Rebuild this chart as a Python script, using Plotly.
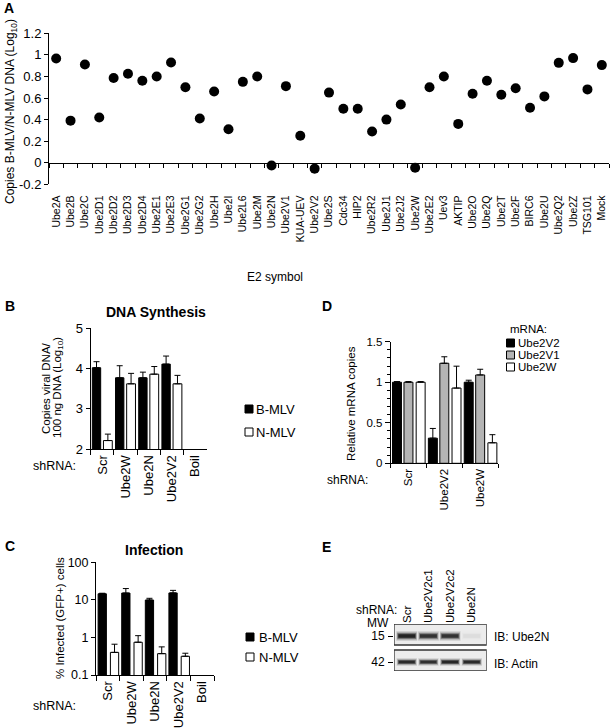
import plotly.graph_objects as go

# ---------------- data ----------------
# Panel A
e2_symbols = ["Ube2A", "Ube2B", "Ube2C", "Ube2D1", "Ube2D2", "Ube2D3", "Ube2D4", "Ube2E1",
              "Ube2E3", "Ube2G1", "Ube2G2", "Ube2H", "Ube2I", "Ube2L6", "Ube2M", "Ube2N",
              "Ube2V1", "KUA-UEV", "Ube2V2", "Ube2S", "Cdc34", "HIP2", "Ube2R2", "Ube2J1",
              "Ube2J2", "Ube2W", "Ube2E2", "Uev3", "AKTIP", "Ube2O", "Ube2Q", "Ube2T",
              "Ube2F", "BIRC6", "Ube2U", "Ube2Q2", "Ube2Z", "TSG101", "Mock"]
ratio_log10 = [0.966, 0.39, 0.91, 0.42, 0.785, 0.825, 0.76, 0.80,
               0.93, 0.70, 0.41, 0.66, 0.31, 0.75, 0.80, -0.025,
               0.71, 0.25, -0.055, 0.65, 0.50, 0.50, 0.29, 0.40,
               0.54, -0.046, 0.70, 0.80, 0.36, 0.64, 0.76, 0.63,
               0.69, 0.51, 0.615, 0.926, 0.97, 0.68, 0.905]
a_yticks = [-0.2, 0, 0.2, 0.4, 0.6, 0.8, 1.0, 1.2]
a_yticklabels = ["-0.2", "0", "0.2", "0.4", "0.6", "0.8", "1", "1.2"]

# Panels B and C
shrna_bc = ["Scr", "Ube2W", "Ube2N", "Ube2V2", "Boil"]
dna_bmlv = [4.02, 3.77, 3.77, 4.11, None]
dna_bmlv_err = [0.15, 0.30, 0.14, 0.20, None]
dna_nmlv = [2.21, 3.62, 3.86, 3.62, None]
dna_nmlv_err = [0.16, 0.26, 0.19, 0.21, None]
b_yticks = [2, 3, 4, 5]

inf_bmlv = [14.5, 15.2, 9.9, 15.3, None]
inf_bmlv_err = [0.5, 4.8, 1.1, 2.6, None]
inf_nmlv = [0.40, 0.745, 0.37, 0.315, None]
inf_nmlv_err = [0.26, 0.37, 0.19, 0.065, None]
c_yticks = [0.1, 1, 10, 100]
c_yticklabels = ["0.1", "1", "10", "100"]

# Panel D
shrna_d = ["Scr", "Ube2V2", "Ube2W"]
mrna_ube2v2 = [1.0, 0.31, 1.0]
mrna_ube2v2_err = [0.008, 0.12, 0.025]
mrna_ube2v1 = [1.0, 1.234, 1.09]
mrna_ube2v1_err = [0.008, 0.08, 0.07]
mrna_ube2w = [1.0, 0.928, 0.253]
mrna_ube2w_err = [0.008, 0.27, 0.10]
d_yticks = [0, 0.5, 1, 1.5]
d_yticklabels = ["0", "0.5", "1", "1.5"]

# Panel E (western blot band intensities, 0..1)
blot_lanes = ["Scr", "Ube2V2c1", "Ube2V2c2", "Ube2N"]
ube2n_band = [1.0, 0.85, 0.85, 0.04]
actin_band = [0.9, 0.85, 0.95, 0.9]
mw_labels = ["15", "42"]

# ---------------- helpers ----------------
W, H = 611, 728
FONT = "Liberation Sans, Arial, sans-serif"


def px(x):
    return x / W


def py(y):
    return 1 - y / H


fig = go.Figure()

# ---------------- Panel A ----------------
fig.add_trace(go.Scatter(
    x=e2_symbols, y=ratio_log10, mode="markers",
    marker=dict(color="black", size=10),
    xaxis="x", yaxis="y", showlegend=False, cliponaxis=False))

# ---------------- Panel B ----------------
err_style = dict(type="data", symmetric=False, color="black", thickness=1, width=3)
fig.add_trace(go.Bar(
    x=shrna_bc, y=dna_bmlv, xaxis="x2", yaxis="y2", name="B-MLV",
    marker=dict(color="black", line=dict(color="black", width=1)),
    width=0.36, offset=-0.43, showlegend=False,
    error_y=dict(array=dna_bmlv_err, arrayminus=[0] * len(dna_bmlv_err), **err_style)))
fig.add_trace(go.Bar(
    x=shrna_bc, y=dna_nmlv, xaxis="x2", yaxis="y2", name="N-MLV",
    marker=dict(color="white", line=dict(color="black", width=1)),
    width=0.38, offset=0.05, showlegend=False,
    error_y=dict(array=dna_nmlv_err, arrayminus=[0] * len(dna_nmlv_err), **err_style)))

# ---------------- Panel C ----------------
fig.add_trace(go.Bar(
    x=shrna_bc, y=inf_bmlv, xaxis="x3", yaxis="y3", name="B-MLV",
    marker=dict(color="black", line=dict(color="black", width=1)),
    width=0.35, offset=-0.41, showlegend=False,
    error_y=dict(array=inf_bmlv_err, arrayminus=[0] * len(inf_bmlv_err), **err_style)))
fig.add_trace(go.Bar(
    x=shrna_bc, y=inf_nmlv, xaxis="x3", yaxis="y3", name="N-MLV",
    marker=dict(color="white", line=dict(color="black", width=1)),
    width=0.35, offset=0.11, showlegend=False,
    error_y=dict(array=inf_nmlv_err, arrayminus=[0] * len(inf_nmlv_err), **err_style)))

# ---------------- Panel D ----------------
d_series = [("Ube2V2", mrna_ube2v2, mrna_ube2v2_err, "black", -0.45),
            ("Ube2V1", mrna_ube2v1, mrna_ube2v1_err, "#b4b4b4", -0.13),
            ("Ube2W", mrna_ube2w, mrna_ube2w_err, "white", 0.21)]
for name, vals, errs, col, off in d_series:
    fig.add_trace(go.Bar(
        x=shrna_d, y=vals, xaxis="x4", yaxis="y4", name=name,
        marker=dict(color=col, line=dict(color="black", width=1)),
        width=0.25, offset=off, showlegend=False,
        error_y=dict(array=errs, arrayminus=[0] * len(errs), **err_style)))

# ---------------- Panel E (blot) ----------------
lane_idx = list(range(len(blot_lanes)))
UPPER_C, LOWER_C = 35, 9  # band centres in blot axis units (px from bottom)
for band, centre, layers in [(ube2n_band, UPPER_C, [(10.0, 0.12, 0.97), (7.5, 0.22, 0.92),
                                                     (5.5, 0.45, 0.86), (3.5, 0.8, 0.78)]),
                             (actin_band, LOWER_C, [(8.0, 0.12, 0.94), (6.0, 0.25, 0.88),
                                                    (4.0, 0.5, 0.82), (2.5, 0.8, 0.74)])]:
    for h, alpha, wdt in layers:
        fig.add_trace(go.Bar(
            x=lane_idx, y=[h] * len(band), base=[centre - h / 2] * len(band),
            xaxis="x5", yaxis="y5", width=wdt, showlegend=False, hoverinfo="skip",
            marker=dict(color=[f"rgba(20,20,20,{alpha * v:.3f})" for v in band], line=dict(width=0))))

# ---------------- layout ----------------
axis_common = dict(showline=True, linecolor="black", linewidth=1, showgrid=False,
                   zeroline=False, ticks="outside", tickcolor="black", tickwidth=1,
                   automargin=False)

layout = dict(
    width=W, height=H, margin=dict(l=0, r=0, t=0, b=0, autoexpand=False),
    paper_bgcolor="white", plot_bgcolor="rgba(0,0,0,0)",
    font=dict(family=FONT, color="black", size=12),
    barmode="overlay", showlegend=False,
    # A
    xaxis=dict(axis_common, domain=[px(49), px(609)], anchor="free", position=py(163.3),
               type="category", categoryorder="array", categoryarray=e2_symbols,
               range=[-0.5, len(e2_symbols) - 0.5], tickson="boundaries", ticklen=4,
               tickangle=-90, tickfont=dict(size=10.5), ticklabelstandoff=27),
    yaxis=dict(axis_common, domain=[py(184.3), py(33.3)], anchor="x", range=[-0.2, 1.2],
               tickvals=a_yticks, ticktext=a_yticklabels, ticklen=4, tickfont=dict(size=13)),
    # B
    xaxis2=dict(axis_common, domain=[px(90.7), px(206.7)], anchor="y2", type="category",
                categoryorder="array", categoryarray=shrna_bc, range=[-0.5, 4.5],
                tickson="boundaries", ticklen=5, tickangle=-90, tickfont=dict(size=13)),
    yaxis2=dict(axis_common, domain=[py(449), py(328.3)], anchor="x2", range=[2, 5],
                tickvals=b_yticks, ticklen=4, tickfont=dict(size=13)),
    # C
    xaxis3=dict(axis_common, domain=[px(96), px(214)], anchor="y3", type="category",
                categoryorder="array", categoryarray=shrna_bc, range=[-0.5, 4.5],
                tickson="boundaries", ticklen=5, tickangle=-90, tickfont=dict(size=13)),
    yaxis3=dict(axis_common, domain=[py(675), py(562.3)], anchor="x3", type="log",
                range=[-1, 2], tickvals=c_yticks, ticktext=c_yticklabels, ticklen=4,
                tickfont=dict(size=12.5)),
    # D
    xaxis4=dict(axis_common, domain=[px(390.7), px(498.3)], anchor="y4", type="category",
                categoryorder="array", categoryarray=shrna_d, range=[-0.5, 2.5],
                tickson="boundaries", ticklen=4, tickangle=-90, tickfont=dict(size=11.5)),
    yaxis4=dict(axis_common, domain=[py(463.3), py(341.7)], anchor="x4", range=[0, 1.5],
                tickvals=d_yticks, ticktext=d_yticklabels, ticklen=5, tickfont=dict(size=11.5),
                minor=dict(dtick=0.1, ticks="outside", ticklen=2.5, tickcolor="black", showgrid=False)),
    # E
    xaxis5=dict(domain=[px(394), px(486.7)], anchor="y5", side="top", range=[-0.59, 3.69],
                tickvals=lane_idx, ticktext=blot_lanes, tickangle=-90, ticks="",
                showline=False, showgrid=False, zeroline=False, tickfont=dict(size=11.5),
                ticklabelstandoff=0, automargin=False),
    yaxis5=dict(domain=[py(671), py(624)], anchor="x5", range=[0, 47],
                tickvals=[UPPER_C, LOWER_C], ticktext=mw_labels, ticks="outside", ticklen=5,
                tickcolor="black", showline=False, showgrid=False, zeroline=False,
                tickfont=dict(size=12), ticklabelstandoff=1, automargin=False),
)
fig.update_layout(**layout)

# blot frames
shapes = []
for y0, y1 in [(26, 47), (0, 21)]:
    shapes.append(dict(type="rect", xref="x5", yref="y5", x0=-0.59, x1=3.69, y0=y0, y1=y1,
                       line=dict(color="#333333", width=1.3), fillcolor="#ececec", layer="below"))

# legend keys (B, C, D)
def key(x0, yc, fill, size=8):
    return dict(type="rect", xref="paper", yref="paper",
                x0=px(x0), x1=px(x0 + size), y0=py(yc + size / 2), y1=py(yc - size / 2),
                line=dict(color="black", width=1), fillcolor=fill)

shapes += [key(245, 409, "black"), key(245, 432, "white"),
           key(246, 637, "black"), key(246, 657, "white"),
           key(506.5, 343, "black"), key(506.5, 355, "#b4b4b4"), key(506.5, 367, "white")]
fig.update_layout(shapes=shapes)

ann = []


def text(x, y, s, size=12, xanchor="left", bold=False, angle=0):
    ann.append(dict(x=px(x), y=py(y), xref="paper", yref="paper", text=f"<b>{s}</b>" if bold else s,
                    showarrow=False, xanchor=xanchor, yanchor="middle", textangle=angle,
                    font=dict(size=size, family=FONT, color="black")))


# panel letters
text(2, 8, "A", 14, bold=True)
text(3, 306, "B", 14, bold=True)
text(3, 546, "C", 14, bold=True)
text(320, 306, "D", 14, bold=True)
text(320, 547, "E", 14, bold=True)

# titles
text(156, 312, "DNA Synthesis", 14, xanchor="center", bold=True)
text(154, 550, "Infection", 14, xanchor="center", bold=True)

# axis titles
text(11, 112, "Copies B-MLV/N-MLV DNA (Log<sub>10</sub>)", 12, xanchor="center", angle=-90)
text(275, 277, "E2 symbol", 12, xanchor="center")
text(46, 388, "Copies viral DNA/", 11.5, xanchor="center", angle=-90)
text(58, 388, "100 ng DNA (Log<sub>10</sub>)", 11.5, xanchor="center", angle=-90)
text(60, 618, "% Infected (GFP+) cells", 11.5, xanchor="center", angle=-90)
text(351, 404, "Relative mRNA copies", 11.5, xanchor="center", angle=-90)

# shRNA labels
text(78, 466, "shRNA:", 12.5, xanchor="right")
text(78, 706, "shRNA:", 12.5, xanchor="right")
text(370, 480, "shRNA:", 12, xanchor="right")
text(399, 610, "shRNA:", 12, xanchor="right")

# legends
text(254, 409, "B-MLV", 13)
text(254, 432, "N-MLV", 13)
text(257, 637, "B-MLV", 13)
text(257, 657, "N-MLV", 13)
text(508, 329, "mRNA:", 11.5)
text(516, 343, "Ube2V2", 11.5)
text(516, 355, "Ube2V1", 11.5)
text(516, 367, "Ube2W", 11.5)

# blot labels
text(391, 623, "MW", 12, xanchor="right")
text(492, 637, "IB: Ube2N", 12)
text(492, 664, "IB: Actin", 12)

fig.update_layout(annotations=ann)
fig.write_html("out.html", config={"displayModeBar": False},
               post_script="document.body.style.margin='0px';document.body.style.overflow='hidden';")
